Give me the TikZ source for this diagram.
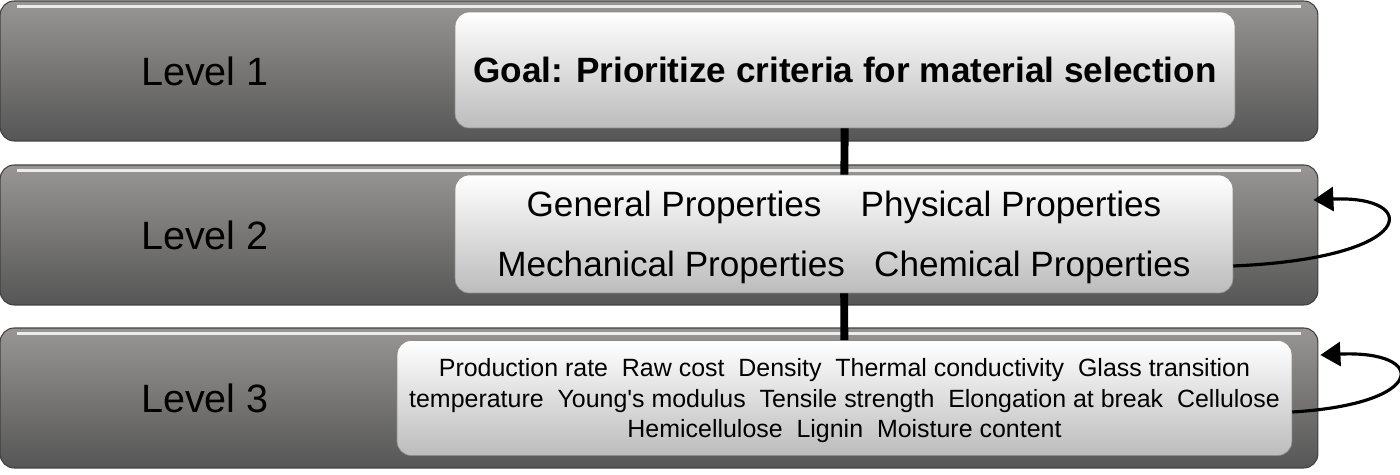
\documentclass[tikz,border=0pt]{standalone}
\usepackage{fontspec}
\setmainfont{Liberation Sans}
\usetikzlibrary{arrows.meta}
\definecolor{bandtop}{RGB}{152,150,148}
\definecolor{bandbot}{RGB}{86,86,86}
\definecolor{boxbot}{RGB}{188,188,188}
\begin{document}
\begin{tikzpicture}[x=0.02cm, y=-0.02cm,
  band/.style={draw=black!75, line width=0.6pt, rounded corners=8pt,
    top color=bandtop, bottom color=bandbot, inner sep=0pt,
    minimum width=26.36cm, minimum height=2.8cm},
  box/.style={draw=black!45, line width=0.4pt, rounded corners=8pt,
    top color=white, bottom color=boxbot, inner sep=0pt, align=center},
  lvl/.style={font=\fontsize{22.5}{27}\selectfont},
  link/.style={line width=4.5pt},
  feedback/.style={line width=1.8pt, -{Triangle[length=0.4cm, width=0.48cm]}}]
  \useasboundingbox (0,0) rectangle (1400,475);
  \foreach \i/\y in {1/71, 2/235, 3/398} {
    \node[band] (band\i) at (659,\y) {};
    \draw[white!85!gray, line width=1.5pt]
      ([xshift=10pt, yshift=-3.5pt]band\i.north west) --
      ([xshift=-10pt, yshift=-3.5pt]band\i.north east);
    \node[lvl] (lvl\i) at (205,\y) {Level \i};
  }
  \node[box, minimum width=15.6cm, minimum height=2.32cm,
    font=\fontsize{20}{24}\selectfont\bfseries] (goal) at (845,70)
    {Goal: Prioritize criteria for material selection};
  \node[box, minimum width=15.56cm, minimum height=2.36cm, text depth=0pt,
    font=\fontsize{20}{34.1}\selectfont] (props) at (844,234)
    {General Properties~~~ Physical Properties\\
     Mechanical Properties~~ Chemical Properties};
  \node[box, minimum width=17.9cm, minimum height=2.3cm, text depth=0pt,
    font=\fontsize{14.2}{17.6}\selectfont] (crit) at (844.5,398)
    {Production rate~ Raw cost~ Density~ Thermal conductivity~ Glass transition\\
     temperature~ Young\textquotesingle s modulus~ Tensile strength~ Elongation at break~ Cellulose\\
     Hemicellulose~ Lignin~ Moisture content};
  \draw[link] (goal) -- (props);
  \draw[link] (props) -- (crit);
  \draw[feedback] ([yshift=-0.64cm]props.east) .. controls +(187,-8) and +(107,-5)
    .. ([xshift=-0.1cm, yshift=0.7cm]band2.east);
  \draw[feedback] ([yshift=-0.28cm]crit.east) .. controls +(136,-8) and +(108,-5)
    .. ([xshift=0.04cm, yshift=0.86cm]band3.east);
\end{tikzpicture}
\end{document}
